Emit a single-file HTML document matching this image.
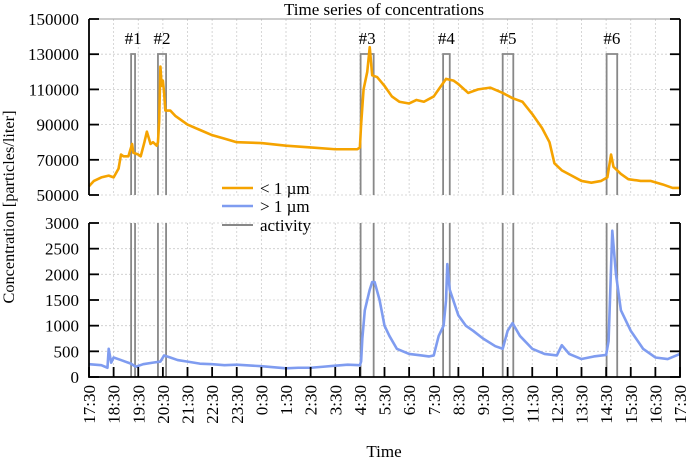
<!DOCTYPE html>
<html><head><meta charset="utf-8"><style>
body{margin:0;background:#fff}
svg text{font-family:"Liberation Serif",serif;fill:#000}
</style></head><body>
<svg id="c" width="688" height="465" xmlns="http://www.w3.org/2000/svg"></svg>
<script>
const hoursSmall=[0,0.2,0.5,0.8,1.0,1.2,1.3,1.4,1.6,1.75,1.8,2.0,2.1,2.25,2.35,2.5,2.6,2.75,2.8,2.85,2.9,2.95,3.0,3.05,3.1,3.3,3.5,4,4.5,5,5.5,6,7,8,9,10,10.9,11.0,11.05,11.15,11.3,11.4,11.5,11.7,12,12.3,12.6,13,13.3,13.6,14,14.2,14.5,14.8,15,15.4,15.8,16.3,16.8,17.2,17.6,18,18.4,18.7,18.9,19.2,19.6,20,20.4,20.8,21.05,21.2,21.3,21.6,21.9,22.4,22.8,23.3,23.7,24];
const valuesSmall=[55000,58000,60000,61000,60000,65000,73000,72000,72000,79000,74000,73000,72000,80000,86000,79000,80000,78000,80000,92000,123000,112000,115000,108000,98000,98000,95000,90000,87000,84000,82000,80000,79500,78000,77000,76000,76000,77000,90000,110000,120000,134000,118000,117000,112000,106000,103000,102000,104000,103000,106000,110000,116000,115000,113000,108000,110000,111000,108000,105000,103000,96000,88000,80000,68000,64000,61000,58000,57000,58000,60000,73000,66000,62000,59000,58000,58000,56000,54000,54000];
const hoursLarge=[0,0.5,0.75,0.8,0.9,1.0,1.3,1.7,1.9,2.2,2.6,2.9,3.05,3.3,3.6,4,4.5,5,5.5,6,7,8,8.5,9,9.5,10,10.5,11.0,11.05,11.1,11.2,11.4,11.5,11.6,11.8,12.0,12.2,12.5,13,13.5,13.8,14.0,14.2,14.4,14.5,14.55,14.65,15,15.3,15.6,16,16.5,16.8,17.0,17.2,17.5,18,18.5,19,19.2,19.5,20,20.5,21,21.1,21.25,21.4,21.6,22,22.5,23,23.5,24];
const valuesLarge=[250,230,180,550,280,380,330,260,200,250,280,300,420,380,330,300,260,250,230,240,210,170,180,180,200,220,240,230,300,750,1300,1700,1850,1850,1500,1000,800,550,450,420,400,420,800,1000,1500,2200,1700,1200,1000,900,750,600,550,900,1050,800,550,450,420,620,450,350,400,430,700,2850,2000,1300,900,550,380,350,450];
const activityStart=[1.71,2.80,11.03,14.38,16.80,21.02];
const activityEnd=[1.87,3.13,11.56,14.65,17.23,21.45];
const activityLabels=["#1","#2","#3","#4","#5","#6"];
const timeTicks=["17:30","18:30","19:30","20:30","21:30","22:30","23:30","0:30","1:30","2:30","3:30","4:30","5:30","6:30","7:30","8:30","9:30","10:30","11:30","12:30","13:30","14:30","15:30","16:30","17:30"];
const topTicks=[50000,70000,90000,110000,130000,150000];
const botTicks=[0,500,1000,1500,2000,2500,3000];

const NS="http://www.w3.org/2000/svg",svg=document.getElementById('c');
const X0=89,X1=680,TT=19,TB=195,BT=223,BB=377,FS=17;
const x=h=>X0+h*(X1-X0)/24;
const yT=v=>TB-(v-50000)*(TB-TT)/100000;
const yB=v=>BB-v*(BB-BT)/3000;
function el(t,a,p){const e=document.createElementNS(NS,t);for(const k in a)e.setAttribute(k,a[k]);(p||svg).appendChild(e);return e;}
timeTicks.forEach((t,i)=>{
 const g=el('line',{x1:x(i),x2:x(i),y1:TT,y2:TB,stroke:'#ccc','stroke-dasharray':'2,2','stroke-width':0.8});
 
 const g2=el('line',{x1:x(i),x2:x(i),y1:BT,y2:BB,stroke:'#ccc','stroke-dasharray':'2,2','stroke-width':0.8});
 
});
topTicks.forEach(v=>{const g=el('line',{x1:X0,x2:X1,y1:yT(v),y2:yT(v),stroke:'#ccc','stroke-dasharray':'2,2','stroke-width':0.8});
 });
botTicks.forEach(v=>{const g=el('line',{x1:X0,x2:X1,y1:yB(v),y2:yB(v),stroke:'#ccc','stroke-dasharray':'2,2','stroke-width':0.8});
 });
activityStart.forEach((s,i)=>{
 const e=activityEnd[i];
 const p=el('path',{d:`M${x(s)},${TB}V54H${x(e)}V${TB}M${x(s)},${BT}V${BB}M${x(e)},${BT}V${BB}`,fill:'none',stroke:'#888','stroke-width':1.8});
 
 const t=el('text',{x:(x(s)+x(e))/2,y:44,'text-anchor':'middle','font-size':FS});t.textContent=activityLabels[i];
 
});
const ps=el('polyline',{points:hoursSmall.map((h,i)=>x(h)+','+yT(valuesSmall[i])).join(' '),fill:'none',stroke:'#f5a300','stroke-width':2.6,'stroke-linejoin':'round'});

const pl=el('polyline',{points:hoursLarge.map((h,i)=>x(h)+','+yB(valuesLarge[i])).join(' '),fill:'none',stroke:'#7f9cf0','stroke-width':2.6,'stroke-linejoin':'round'});

const fr=el('path',{d:`M${X0},${TB}V${TT}M${X1},${TT}V${TB}M${X0},${BT}V${BB}H${X1}V${BT}`,fill:'none',stroke:'#000','stroke-width':1.8});

el('line',{x1:X0,x2:X1,y1:TT,y2:TT,stroke:'#999','stroke-width':1});
topTicks.forEach(v=>{
 el('line',{x1:X0,x2:X0+10,y1:yT(v),y2:yT(v),stroke:'#000','stroke-width':1.8});
 el('line',{x1:X1-10,x2:X1,y1:yT(v),y2:yT(v),stroke:'#000','stroke-width':1.8});
 const t=el('text',{x:X0-10,y:yT(v)+6,'text-anchor':'end','font-size':FS});t.textContent=v;
 
});
botTicks.forEach(v=>{
 el('line',{x1:X0,x2:X0+10,y1:yB(v),y2:yB(v),stroke:'#000','stroke-width':1.8});
 el('line',{x1:X1-10,x2:X1,y1:yB(v),y2:yB(v),stroke:'#000','stroke-width':1.8});
 const t=el('text',{x:X0-10,y:yB(v)+6,'text-anchor':'end','font-size':FS});t.textContent=v;
 
});
timeTicks.forEach((lab,i)=>{
 el('line',{x1:x(i),x2:x(i),y1:BB,y2:BB-10,stroke:'#000','stroke-width':1.8});
 const t=el('text',{x:0,y:0,'text-anchor':'end','font-size':FS,transform:`translate(${x(i)+6},${BB+8}) rotate(-90)`});t.textContent=lab;
 
});
</script>
<svg width="688" height="465" style="position:absolute;left:0;top:0" xmlns="http://www.w3.org/2000/svg">
<g font-family="Liberation Serif,serif" font-size="17">
<line x1="222" x2="253" y1="188" y2="188" stroke="#f5a300" stroke-width="2.6"/><text x="260" y="194">&lt; 1 µm</text>
<line x1="222" x2="253" y1="206" y2="206" stroke="#7f9cf0" stroke-width="2.6"/><text x="260" y="212">&gt; 1 µm</text>
<line x1="222" x2="253" y1="225" y2="225" stroke="#888" stroke-width="2"/><text x="260" y="231">activity</text>
</g>
<text x="384" y="15" text-anchor="middle" font-family="Liberation Serif,serif" font-size="17">Time series of concentrations</text>
<text x="384" y="457" text-anchor="middle" font-family="Liberation Serif,serif" font-size="17">Time</text>
<text transform="translate(14,207) rotate(-90)" text-anchor="middle" font-family="Liberation Serif,serif" font-size="16" textLength="193" lengthAdjust="spacingAndGlyphs">Concentration [particles/liter]</text>
</svg>
</body></html>
